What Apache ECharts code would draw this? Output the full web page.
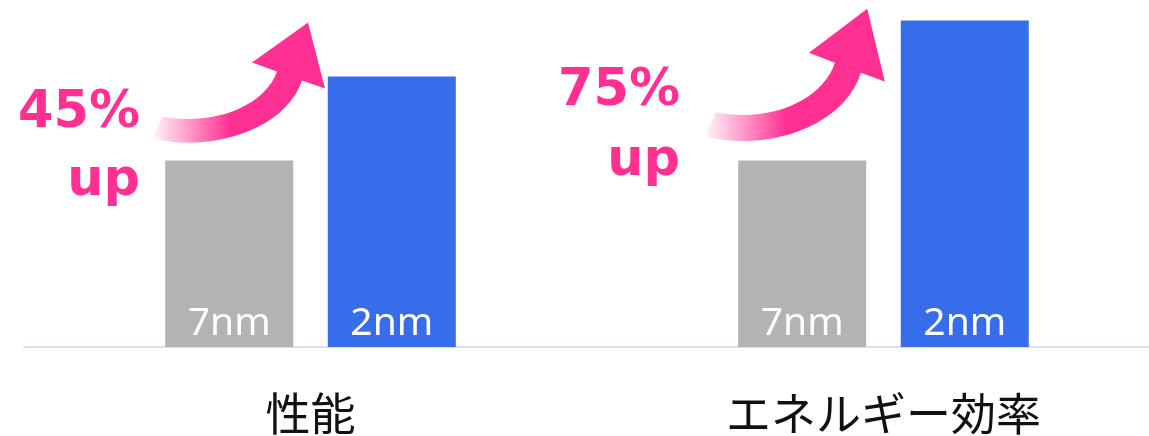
<!DOCTYPE html>
<html>
<head>
<meta charset="utf-8">
<script src="https://cdn.jsdelivr.net/npm/echarts@6/dist/echarts.min.js"></script>
<style>
  html, body { margin: 0; padding: 0; background: #fff; }
  #chart { width: 1149px; height: 436px; }
</style>
</head>
<body>
<div id="chart"></div>
<script>
// data
var categories = ['性能', 'エネルギー効率'];
var seriesNames = ['7nm', '2nm'];
var values7nm = [100, 100];
var values2nm = [145, 175];
var gainLabels = ['45%', '75%'];

var PINK = '#ff3092';

;(function (window) {

    var chart = echarts.init(document.getElementById('chart'));

    function barSeries(name, data, color) {
        return {
            name: name,
            type: 'bar',
            data: data,
            barWidth: 128,
            barGap: '27%',
            itemStyle: { color: color },
            label: {
                show: true,
                position: 'insideBottom',
                distance: 4,
                formatter: '{a}',
                color: '#fff',
                fontFamily: 'Noto Sans',
                fontSize: 39
            },
            silent: true
        };
    }

    // curved "up" arrow + gain label, drawn from the gray bar's top of each group
    var arrowPath = 'M0 0 C57 14 132 -8 149 -58 L172 -50 L155 -116 L99 -76 L124 -67 C112 -33 62 -12 9 -22 Z';
    var placement = [
        { ax: -157.5, ay: -22, sx: 1, sy: 1, tx: -170.5, ty1: -47, ty2: 21 },
        { ax: -177.5, ay: -24, sx: 1.04, sy: 1.1, tx: -203.5, ty1: -69, ty2: 1 }
    ];

    function renderArrow(params, api) {
        var i = params.dataIndex;
        var pt = api.coord([api.value(0), api.value(1)]);
        var p = placement[i];
        var font = 'bold 51px "DejaVu Sans"';
        return {
            type: 'group',
            children: [{
                type: 'path',
                x: pt[0] + p.ax,
                y: pt[1] + p.ay,
                scaleX: p.sx,
                scaleY: p.sy,
                shape: { pathData: arrowPath },
                style: {
                    fill: {
                        type: 'linear', x: 0, y: 0, x2: 1, y2: 0,
                        colorStops: [
                            { offset: 0, color: '#fff4f9' },
                            { offset: 0.45, color: PINK },
                            { offset: 1, color: PINK }
                        ]
                    }
                }
            }, {
                type: 'text',
                x: pt[0] + p.tx,
                y: pt[1] + p.ty1,
                style: { text: gainLabels[i], fill: PINK, font: font, align: 'right', verticalAlign: 'middle' }
            }, {
                type: 'text',
                x: pt[0] + p.tx,
                y: pt[1] + p.ty2,
                style: { text: 'up', fill: PINK, font: font, align: 'right', verticalAlign: 'middle' }
            }]
        };
    }

    var option = {
        animation: false,
        grid: { left: 24, right: -21, top: 0, bottom: 89, outerBoundsMode: 'none' },
        xAxis: {
            type: 'category',
            data: categories,
            axisLine: { lineStyle: { color: '#d5e0f7', width: 2 } },
            axisTick: { show: false },
            axisLabel: {
                margin: 44,
                color: '#111',
                fontFamily: 'Noto Sans CJK JP',
                fontSize: 45
            }
        },
        yAxis: {
            type: 'value',
            min: 0,
            max: 186,
            show: false,
            splitLine: { show: false }
        },
        series: [
            barSeries(seriesNames[0], values7nm, '#b3b3b3'),
            barSeries(seriesNames[1], values2nm, '#376ceb'),
            {
                type: 'custom',
                renderItem: renderArrow,
                data: values7nm.map(function (v, i) { return [i, v]; }),
                silent: true,
                z: 5
            }
        ]
    };

    chart.setOption(option);

}(window));
</script>
</body>
</html>
